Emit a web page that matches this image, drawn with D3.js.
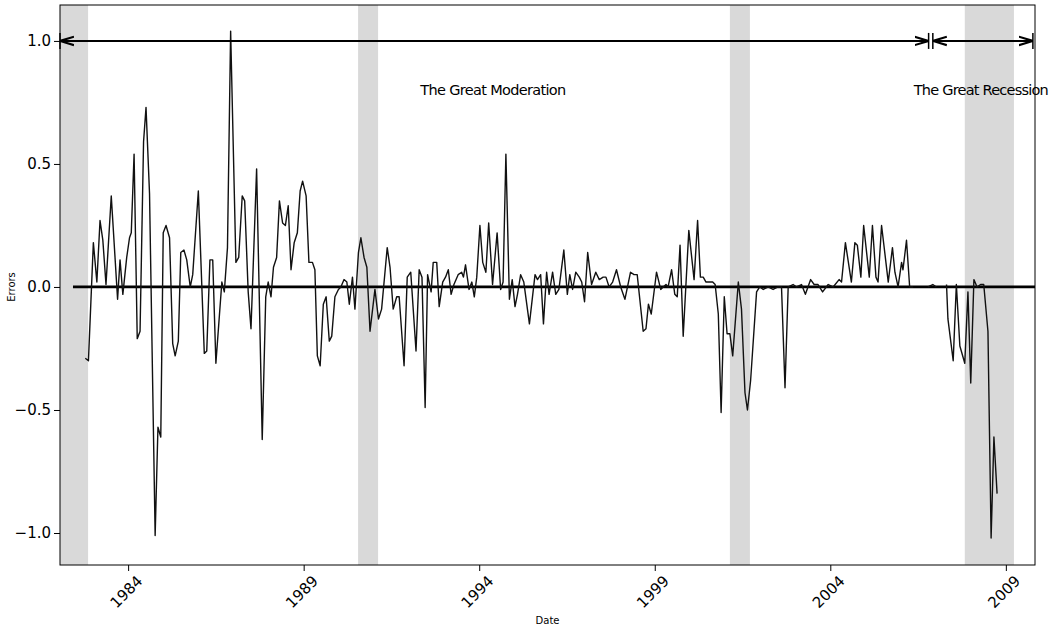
<!DOCTYPE html>
<html>
<head>
<meta charset="utf-8">
<script src="https://cdn.jsdelivr.net/npm/d3@7"></script>
<style>
  body { margin: 0; background: #fff; }
  text { font-family: "DejaVu Sans", sans-serif; }
</style>
</head>
<body>
<svg id="chart" width="1055" height="627"></svg>
<script>
// decimal year of each vertex, and the forecast error there (null = gap)
const dates = [
  1982.78, 1982.87, 1983.01, 1983.11, 1983.20, 1983.28, 1983.37, 1983.52, 1983.70, 1983.77,
  1983.85, 1983.96, 1984.04, 1984.09, 1984.17, 1984.26, 1984.34, 1984.44, 1984.51, 1984.61,
  1984.77, 1984.85, 1984.93, 1985.00, 1985.08, 1985.18, 1985.27, 1985.34, 1985.43, 1985.50,
  1985.59, 1985.67, 1985.77, 1985.84, 1986.00, 1986.17, 1986.24, 1986.33, 1986.41, 1986.50,
  1986.67, 1986.74, 1986.83, 1986.92, 1987.07, 1987.15, 1987.25, 1987.32, 1987.42, 1987.50,
  1987.66, 1987.82, 1987.92, 1987.99, 1988.07, 1988.14, 1988.23, 1988.31, 1988.40, 1988.48,
  1988.56, 1988.64, 1988.73, 1988.82, 1988.90, 1988.97, 1989.07, 1989.15, 1989.25, 1989.32,
  1989.39, 1989.47, 1989.56, 1989.64, 1989.73, 1989.80, 1989.89, 1989.99, 1990.06, 1990.15,
  1990.23, 1990.30, 1990.39, 1990.46, 1990.56, 1990.63, 1990.72, 1990.80, 1990.89, 1991.03,
  1991.13, 1991.22, 1991.38, 1991.46, 1991.55, 1991.65, 1991.72, 1991.86, 1991.95, 1992.05,
  1992.20, 1992.29, 1992.37, 1992.46, 1992.53, 1992.63, 1992.69, 1992.79, 1992.86, 1992.96,
  1993.04, 1993.12, 1993.20, 1993.28, 1993.40, 1993.50, 1993.55, 1993.61, 1993.71, 1993.79,
  1993.86, 1993.93, 1994.02, 1994.10, 1994.19, 1994.27, 1994.38, 1994.51, 1994.61, 1994.68,
  1994.76, 1994.86, 1994.94, 1995.02, 1995.09, 1995.18, 1995.27, 1995.43, 1995.59, 1995.66,
  1995.75, 1995.83, 1995.92, 1995.99, 1996.09, 1996.18, 1996.27, 1996.41, 1996.51, 1996.58,
  1996.66, 1996.75, 1996.85, 1996.92, 1997.00, 1997.09, 1997.20, 1997.32, 1997.42, 1997.53,
  1997.61, 1997.70, 1997.80, 1997.91, 1998.03, 1998.15, 1998.31, 1998.41, 1998.50, 1998.67,
  1998.75, 1998.82, 1998.90, 1999.05, 1999.17, 1999.24, 1999.32, 1999.38, 1999.48, 1999.57,
  1999.64, 1999.72, 1999.81, 1999.97, 2000.12, 2000.22, 2000.30, 2000.38, 2000.46, 2000.55,
  2000.65, 2000.72, 2000.81, 2000.89, 2000.98, 2001.06, 2001.14, 2001.22, 2001.38, 2001.47,
  2001.57, 2001.64, 2001.73, 2001.90, 2001.99, 2002.09, 2002.23, 2002.37, 2002.51, 2002.61,
  2002.71, 2002.80, 2002.94, 2003.04, 2003.18, 2003.29, 2003.44, 2003.54, 2003.65, 2003.78,
  2003.94, 2004.08, 2004.25, 2004.32, 2004.43, 2004.60, 2004.70, 2004.77, 2004.87, 2004.95,
  2005.11, 2005.20, 2005.30, 2005.36, 2005.46, 2005.65, 2005.77, 2005.84, 2005.93, 2006.03,
  2006.07, 2006.17, 2006.26, 2006.36, 2006.50, 2006.78, 2006.92, 2007.02, 2007.10, 2007.31,
  2007.35, 2007.50, 2007.59, 2007.69, 2007.83, 2007.92, 2008.00, 2008.09, 2008.18, 2008.28,
  2008.37, 2008.49, 2008.58, 2008.66, 2008.75
];
const errors = [
  -0.29, -0.30, 0.18, 0.02, 0.27, 0.19, 0.01, 0.37, -0.05, 0.11,
  -0.03, 0.12, 0.20, 0.22, 0.54, -0.21, -0.18, 0.59, 0.73, 0.38,
  -1.01, -0.57, -0.61, 0.22, 0.25, 0.20, -0.23, -0.28, -0.22, 0.14,
  0.15, 0.11, 0.00, 0.05, 0.39, -0.27, -0.26, 0.11, 0.11, -0.31,
  0.02, -0.02, 0.16, 1.04, 0.10, 0.12, 0.37, 0.35, -0.02, -0.17,
  0.48, -0.62, -0.04, 0.02, -0.04, 0.08, 0.12, 0.35, 0.26, 0.25,
  0.33, 0.07, 0.18, 0.22, 0.39, 0.43, 0.37, 0.10, 0.10, 0.07,
  -0.28, -0.32, -0.07, -0.04, -0.22, -0.20, -0.04, -0.01, 0.00, 0.03,
  0.02, -0.07, 0.04, -0.09, 0.14, 0.20, 0.12, 0.08, -0.18, -0.01,
  -0.13, -0.09, 0.16, 0.08, -0.09, -0.04, -0.04, -0.32, 0.04, 0.06,
  -0.26, 0.07, 0.04, -0.49, 0.05, -0.02, 0.10, 0.10, -0.08, 0.02,
  0.04, 0.07, -0.03, 0.01, 0.05, 0.06, 0.04, 0.09, -0.01, 0.02,
  -0.04, 0.04, 0.25, 0.10, 0.06, 0.26, 0.01, 0.22, -0.01, 0.02,
  0.54, -0.05, 0.03, -0.08, -0.03, 0.05, 0.02, -0.15, 0.05, 0.03,
  0.05, -0.15, 0.06, -0.03, 0.06, -0.03, -0.01, 0.15, -0.03, 0.05,
  -0.01, 0.06, 0.04, 0.02, -0.06, 0.14, 0.01, 0.06, 0.03, 0.04,
  0.04, 0.00, 0.02, 0.07, 0.00, -0.05, 0.06, 0.05, 0.05, -0.18,
  -0.17, -0.07, -0.11, 0.06, -0.01, 0.00, 0.01, 0.00, 0.07, -0.03,
  -0.04, 0.17, -0.20, 0.23, 0.03, 0.27, 0.04, 0.04, 0.02, 0.02,
  0.02, 0.01, -0.11, -0.51, -0.04, -0.19, -0.19, -0.28, 0.02, -0.09,
  -0.43, -0.50, -0.38, -0.02, 0.00, -0.01, 0.00, -0.01, 0.00, 0.00,
  -0.41, 0.00, 0.01, 0.00, 0.01, -0.03, 0.03, 0.01, 0.01, -0.02,
  0.01, 0.00, 0.03, 0.02, 0.18, 0.02, 0.18, 0.17, 0.04, 0.25,
  0.04, 0.25, 0.04, 0.02, 0.25, 0.02, 0.16, 0.06, 0.00, 0.10,
  0.07, 0.19, 0.00, 0.00, null, 0.00, 0.01, 0.00, null, 0.01,
  -0.13, -0.30, 0.01, -0.24, -0.31, -0.02, -0.39, 0.03, 0.00, 0.01,
  0.01, -0.18, -1.02, -0.61, -0.84
];
const recessions = [[1982.06, 1982.86], [1990.55, 1991.12], [2001.14, 2001.71], [2007.83, 2009.23]];
const xTicks = [1984, 1989, 1994, 1999, 2004, 2009];
const yTicks = [-1.0, -0.5, 0.0, 0.5, 1.0];
const eras = [
  { label: "The Great Moderation", from: 1982.06, to: 2006.80, textAt: 1994.4, len: 146 },
  { label: "The Great Recession", from: 2006.92, to: 2009.77, textAt: 2008.3, len: 135 }
];

const svg = d3.select("#chart");
const mLeft = 60, mRight = 1035, mTop = 5, mBottom = 565;

const x = d3.scaleLinear().domain([1982.06, 2009.83]).range([mLeft, mRight]);
const y = d3.scaleLinear().domain([-1.13, 1.146]).range([mBottom, mTop]);

svg.selectAll(".rec")
  .data(recessions)
  .enter()
  .append("rect")
  .attr("x", d => x(d[0]))
  .attr("width", d => x(d[1]) - x(d[0]))
  .attr("y", mTop)
  .attr("height", mBottom - mTop)
  .attr("fill", "#d9d9d9");

// zero reference line
svg.append("line")
  .attr("x1", x(1982.43)).attr("x2", mRight)
  .attr("y1", y(0)).attr("y2", y(0))
  .attr("stroke", "#000").attr("stroke-width", 2.8);

const points = dates.map((d, i) => ({ date: d, value: errors[i] }));
const line = d3.line()
  .defined(d => d.value !== null)
  .x(d => x(d.date))
  .y(d => y(d.value));

svg.append("path")
  .datum(points)
  .attr("d", line)
  .attr("fill", "none")
  .attr("stroke", "#111")
  .attr("stroke-width", 1.4)
  .attr("stroke-linejoin", "round");

// era arrows
const defs = svg.append("defs");
defs.append("marker")
  .attr("id", "head")
  .attr("viewBox", "0 -5 10 10")
  .attr("refX", 10).attr("refY", 0)
  .attr("markerWidth", 7).attr("markerHeight", 7)
  .attr("orient", "auto-start-reverse")
  .append("path")
  .attr("d", "M0,-3L10,0L0,3")
  .attr("fill", "none").attr("stroke", "#000").attr("stroke-width", 1.5);

const ay = y(1.0);
eras.forEach(e => {
  svg.append("line")
    .attr("x1", x(e.from)).attr("x2", x(e.to))
    .attr("y1", ay).attr("y2", ay)
    .attr("stroke", "#000").attr("stroke-width", 2)
    .attr("marker-start", "url(#head)")
    .attr("marker-end", "url(#head)");
  [e.from, e.to].forEach(v => {
    svg.append("line")
      .attr("x1", x(v)).attr("x2", x(v))
      .attr("y1", ay - 8).attr("y2", ay + 8)
      .attr("stroke", "#000").attr("stroke-width", 1.5);
  });
  svg.append("text")
    .attr("x", x(e.textAt)).attr("y", 95)
    .attr("text-anchor", "middle")
    .attr("font-size", 14.5)
    .attr("textLength", e.len)
    .text(e.label);
});

// frame
svg.append("rect")
  .attr("x", mLeft).attr("y", mTop)
  .attr("width", mRight - mLeft).attr("height", mBottom - mTop)
  .attr("fill", "none").attr("stroke", "#000").attr("stroke-width", 1);

const xAxis = svg.append("g")
  .attr("transform", `translate(0,${mBottom})`)
  .call(d3.axisBottom(x).tickValues(xTicks).tickFormat(d3.format("d")).tickSizeOuter(0));
xAxis.selectAll("text")
  .attr("font-size", 15)
  .attr("text-anchor", "end")
  .attr("dx", "-0.1em").attr("dy", "0.9em")
  .attr("transform", "rotate(-45)");

const yAxis = svg.append("g")
  .attr("transform", `translate(${mLeft},0)`)
  .call(d3.axisLeft(y).tickValues(yTicks).tickFormat(d3.format(".1f")).tickSizeOuter(0));
yAxis.selectAll("text").attr("font-size", 15);
svg.selectAll(".domain").remove();

svg.append("text")
  .attr("x", (mLeft + mRight) / 2).attr("y", 624)
  .attr("text-anchor", "middle").attr("font-size", 10)
  .text("Date");

svg.append("text")
  .attr("transform", `translate(15,${y(0)}) rotate(-90)`)
  .attr("text-anchor", "middle").attr("font-size", 10)
  .text("Errors");
</script>
</body>
</html>
